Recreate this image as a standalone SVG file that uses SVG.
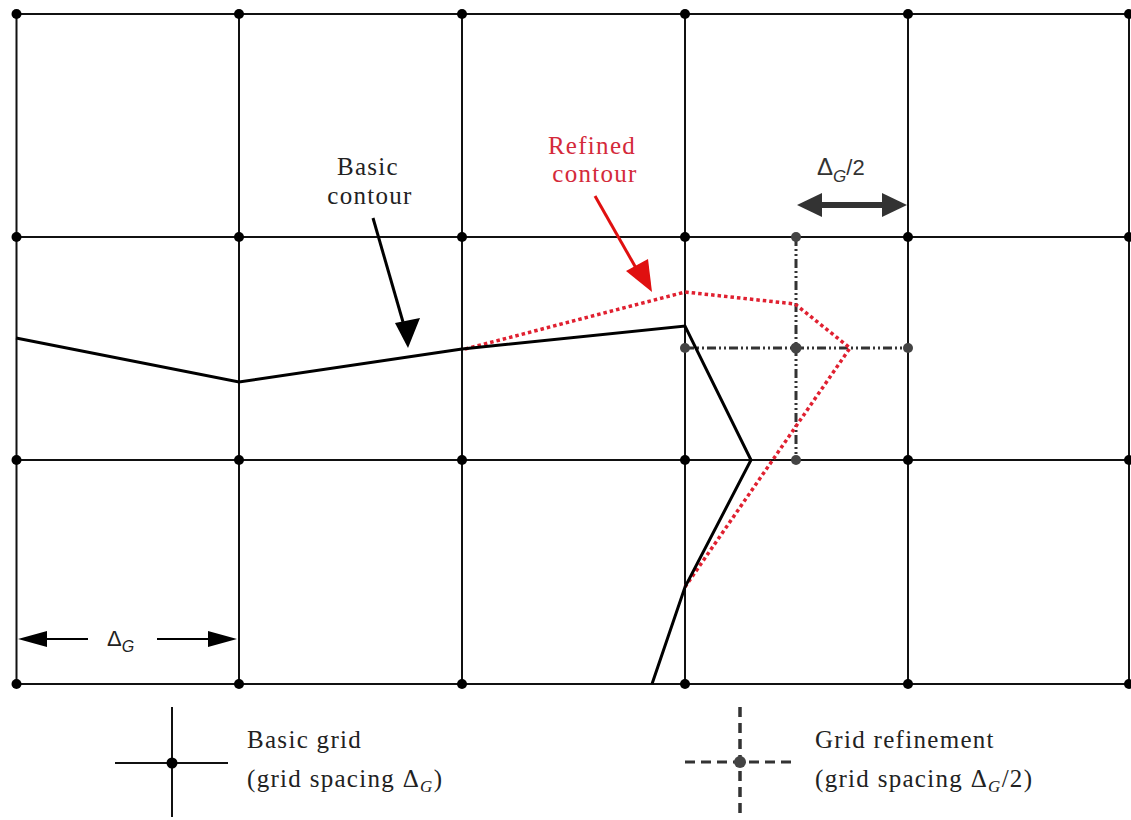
<svg xmlns="http://www.w3.org/2000/svg" width="1131" height="820" viewBox="0 0 1131 820">
<style>
.grid{stroke:#111;stroke-width:2;fill:none}
.dot{fill:#000}
.rdot{fill:#444}
.refine{stroke:#333;stroke-width:3;fill:none;stroke-dasharray:9 3 2 3 2 3}
.contour{stroke:#000;stroke-width:3;fill:none;stroke-linejoin:miter}
.red{stroke:#e02030;stroke-width:3.5;fill:none;stroke-dasharray:3.5 3}
.lbl{font-family:"Liberation Serif",serif;font-size:25px;letter-spacing:1.3px;fill:#222}
.sym{font-family:"Liberation Sans",sans-serif;fill:#222}
</style>
<rect width="1131" height="820" fill="#fff"/>
<g id="grid">
<line class="grid" x1="16.5" y1="14" x2="1131" y2="14"/>
<line class="grid" x1="16.5" y1="237" x2="1131" y2="237"/>
<line class="grid" x1="16.5" y1="460" x2="1131" y2="460"/>
<line class="grid" x1="16.5" y1="684" x2="1131" y2="684"/>
<line class="grid" x1="16.5" y1="14" x2="16.5" y2="684"/>
<line class="grid" x1="239" y1="14" x2="239" y2="684"/>
<line class="grid" x1="462" y1="14" x2="462" y2="684"/>
<line class="grid" x1="685" y1="14" x2="685" y2="684"/>
<line class="grid" x1="908" y1="14" x2="908" y2="684"/>
<line class="grid" x1="1129" y1="14" x2="1129" y2="684"/>
</g>
<g id="refinement">
<line class="refine" x1="796" y1="237" x2="796" y2="460"/>
<line class="refine" x1="685" y1="348" x2="908" y2="348"/>
</g>
<g id="grid-nodes">
<circle class="dot" cx="16.5" cy="14" r="5"/><circle class="dot" cx="239" cy="14" r="5"/><circle class="dot" cx="462" cy="14" r="5"/><circle class="dot" cx="685" cy="14" r="5"/><circle class="dot" cx="908" cy="14" r="5"/><circle class="dot" cx="1129" cy="14" r="5"/>
<circle class="dot" cx="16.5" cy="237" r="5"/><circle class="dot" cx="239" cy="237" r="5"/><circle class="dot" cx="462" cy="237" r="5"/><circle class="dot" cx="685" cy="237" r="5"/><circle class="dot" cx="908" cy="237" r="5"/><circle class="dot" cx="1129" cy="237" r="5"/>
<circle class="dot" cx="16.5" cy="460" r="5"/><circle class="dot" cx="239" cy="460" r="5"/><circle class="dot" cx="462" cy="460" r="5"/><circle class="dot" cx="685" cy="460" r="5"/><circle class="dot" cx="908" cy="460" r="5"/><circle class="dot" cx="1129" cy="460" r="5"/>
<circle class="dot" cx="16.5" cy="684" r="5"/><circle class="dot" cx="239" cy="684" r="5"/><circle class="dot" cx="462" cy="684" r="5"/><circle class="dot" cx="685" cy="684" r="5"/><circle class="dot" cx="908" cy="684" r="5"/><circle class="dot" cx="1129" cy="684" r="5"/>
<circle class="rdot" cx="796" cy="237" r="5"/><circle class="rdot" cx="685" cy="348" r="5"/><circle class="rdot" cx="796" cy="348" r="5.5"/><circle class="rdot" cx="908" cy="348" r="5"/><circle class="rdot" cx="796" cy="460" r="5"/>
</g>
<g id="connectors">
<polyline id="refined-contour" class="red" points="465,349 685,292 795,304 850,348 685,587"/>
<polyline id="basic-contour" class="contour" points="16,338 239,382 462,349 685,326 751,460 685,587 652,684"/>
<line x1="373" y1="218" x2="403" y2="322" stroke="#000" stroke-width="3"/>
<path d="M395,323 L420,318 L408,348 z" fill="#000"/>
<line x1="595" y1="196" x2="636" y2="268" stroke="#e01010" stroke-width="3"/>
<path d="M626,271 L648,259 L652,292 z" fill="#e01010"/>
<line x1="815" y1="205" x2="889" y2="205" stroke="#333" stroke-width="6"/>
<path d="M797,205 L822,193 L822,217 z" fill="#333"/>
<path d="M907,205 L882,193 L882,217 z" fill="#333"/>
<line x1="40" y1="639" x2="88" y2="639" stroke="#000" stroke-width="2"/>
<path d="M18,639 L47,631 L47,647 z" fill="#000"/>
<line x1="157" y1="639" x2="212" y2="639" stroke="#000" stroke-width="2"/>
<path d="M237,639 L208,631 L208,647 z" fill="#000"/>
</g>
<g id="label-basic-contour">
<text class="lbl" x="368" y="175" text-anchor="middle" font-size="26">Basic</text>
<text class="lbl" x="370" y="204" text-anchor="middle" font-size="26">contour</text>
</g>
<g id="label-refined-contour">
<text class="lbl" x="592" y="154" text-anchor="middle" font-size="26" style="fill:#d42a3a">Refined</text>
<text class="lbl" x="595" y="182" text-anchor="middle" font-size="26" style="fill:#d42a3a">contour</text>
</g>
<g id="label-half-spacing">
<text class="sym" x="817" y="175" font-size="24" style="fill:#333">Δ<tspan font-size="17" dy="7" font-style="italic">G</tspan><tspan dy="-7" font-size="22">/2</tspan></text>
</g>
<g id="label-spacing">
<text class="sym" x="107" y="646" font-size="22">Δ<tspan font-size="16" dy="6" font-style="italic">G</tspan></text>
</g>
<g id="legend-basic">
<line class="grid" x1="115" y1="763" x2="228" y2="763"/>
<line class="grid" x1="172" y1="707" x2="172" y2="817"/>
<circle class="dot" cx="172" cy="763" r="5.5"/>
<text class="lbl" x="247" y="748">Basic grid</text>
<text class="lbl" x="247" y="787">(grid spacing Δ<tspan font-style="italic" font-size="17" dy="5">G</tspan><tspan dy="-5">)</tspan></text>
</g>
<g id="legend-refinement">
<line x1="685" y1="762" x2="797" y2="762" stroke="#333" stroke-width="3" stroke-dasharray="10 6"/>
<line x1="740" y1="707" x2="740" y2="817" stroke="#333" stroke-width="3.5" stroke-dasharray="10 6"/>
<circle class="rdot" cx="740" cy="762" r="6"/>
<text class="lbl" x="815" y="748">Grid refinement</text>
<text class="lbl" x="815" y="787">(grid spacing Δ<tspan font-style="italic" font-size="17" dy="5">G</tspan><tspan dy="-5">/2)</tspan></text>
</g>
</svg>
